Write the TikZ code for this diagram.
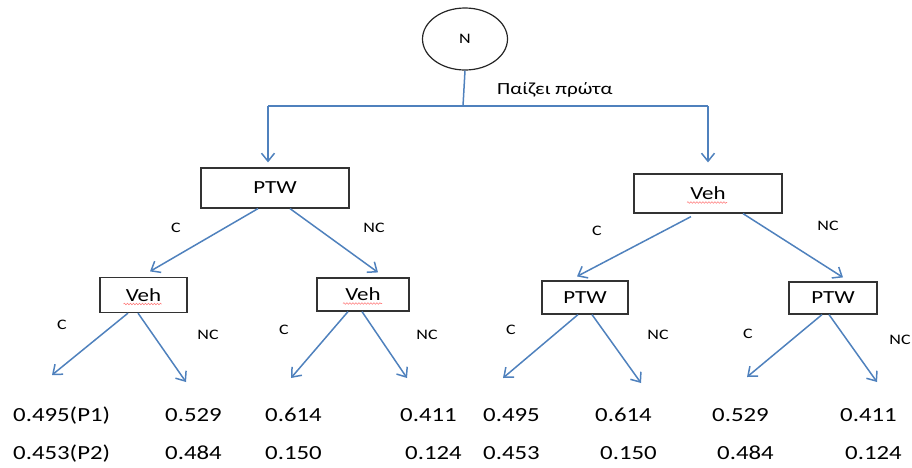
\documentclass[tikz,border=0pt]{standalone}
\usepackage{fontspec}
\setmainfont{Carlito}[FakeStretch=1.24]
\usetikzlibrary{arrows.meta,shapes.geometric,decorations.pathmorphing}
\definecolor{lineblue}{RGB}{79,129,189}
\newcommand{\fsz}[1]{\fontsize{#1}{#1}\selectfont}
\tikzset{
  box/.style={draw=black!80, line width=1.2pt, inner sep=0pt, font=\fsz{18.5}},
  arr/.style={lineblue, line width=1.5pt, -{Straight Barb[length=8pt,width=13pt,line width=1.5pt]}},
  link/.style={lineblue, line width=1.5pt},
  lbl/.style={font=\fsz{14.5}, inner sep=0pt},
  val/.style={font=\fsz{20}, inner sep=0pt, anchor=base west},
  squiggle/.style={red!50, line width=0.6pt, decorate,
    decoration={snake, amplitude=0.8pt, segment length=3pt}}
}
\begin{document}
\begin{tikzpicture}[x=1pt,y=-1pt]
\useasboundingbox (0,0) rectangle (912,467);

% chance node and the first move
\node[ellipse, draw=black!85, line width=1.2pt, minimum width=85pt, minimum height=62pt,
      inner sep=0pt, font=\fsz{14.5}] (N) at (465,39) {N};
\node[font=\fsz{17}, inner sep=0pt, anchor=base west] (first) at (497,94) {Παίζει πρώτα};

\coordinate (jm) at (463,106);
\coordinate (jl) at (268,106);
\coordinate (jr) at (708,106);

% first-level players
\node[box, minimum width=148pt, minimum height=40pt] (a) at (275,188) {PTW};
\node[box, minimum width=148pt, minimum height=39pt] (b) at (708,193.5) {Veh};

% second-level players
\node[box, minimum width=87pt, minimum height=35pt] (c) at (143.5,295) {Veh};
\node[box, minimum width=92pt, minimum height=33pt] (d) at (363,294.5) {Veh};
\node[box, minimum width=86pt, minimum height=33pt] (e) at (585,297.5) {PTW};
\node[box, minimum width=88pt, minimum height=32pt] (f) at (833,298) {PTW};

% spell-check marks under "Veh"
\draw[squiggle] ([shift={(-21,9)}]b.center) -- ([shift={(19,9)}]b.center);
\draw[squiggle] ([shift={(-20,9)}]c.center) -- ([shift={(18,9)}]c.center);
\draw[squiggle] ([shift={(-20,9)}]d.center) -- ([shift={(19,9)}]d.center);

% root connectors
\draw[link] (N.south) -- (jm);
\draw[link] (jl) -- (jr);
\draw[arr, shorten >=5pt] (jl) -- (jl |- a.north);
\draw[arr, shorten >=11pt] (jr) -- (jr |- b.north);

% first level to second level
\draw[arr] ([xshift=-17pt]a.south) -- ([shift={(6.5,-5.5)}]c.north);
\draw[arr] ([xshift=15pt]a.south) -- ([shift={(15,-5)}]d.north);
\draw[arr] ([shift={(-17,3)}]b.south) -- ([shift={(-8,-4)}]e.north);
\draw[arr] ([xshift=35pt]b.south) -- ([shift={(10,-4)}]f.north);

\node[lbl] (lc1) at (176,228) {C};
\node[lbl] (ln1) at (374,228) {NC};
\node[lbl] (lc2) at (597,231) {C};
\node[lbl] (ln2) at (828,226) {NC};

% leaf arrow ends
\coordinate (t1) at (52,375);
\coordinate (t2) at (186,382);
\coordinate (t3) at (291,378);
\coordinate (t4) at (407,378);
\coordinate (t5) at (503,378);
\coordinate (t6) at (641,383);
\coordinate (t7) at (747,377);
\coordinate (t8) at (877,382);

\draw[arr] ([xshift=-15.5pt]c.south) -- (t1);
\draw[arr] ([xshift=-5.5pt]c.south) -- (t2);
\draw[arr] ([xshift=-15pt]d.south) -- (t3);
\draw[arr] ([xshift=-1pt]d.south) -- (t4);
\draw[arr] ([xshift=-7pt]e.south) -- (t5);
\draw[arr] ([xshift=7pt]e.south) -- (t6);
\draw[arr] ([xshift=-11pt]f.south) -- (t7);
\draw[arr] ([xshift=-4pt]f.south) -- (t8);

\node[lbl] (lc3) at (62,325) {C};
\node[lbl] (ln3) at (208,335) {NC};
\node[lbl] (lc4) at (284,330) {C};
\node[lbl] (ln4) at (427,335) {NC};
\node[lbl] (lc5) at (511,330) {C};
\node[lbl] (ln5) at (658,335) {NC};
\node[lbl] (lc6) at (748,334) {C};
\node[lbl] (ln6) at (900,340) {NC};

% payoffs
\node[val] (p11) at (13,421) {0.495(P1)};
\node[val] (p12) at (165,421) {0.529};
\node[val] (p13) at (265,421) {0.614};
\node[val] (p14) at (400,421) {0.411};
\node[val] (p15) at (483,421) {0.495};
\node[val] (p16) at (595,421) {0.614};
\node[val] (p17) at (712,421) {0.529};
\node[val] (p18) at (840,421) {0.411};

\node[val] (p21) at (13,459) {0.453(P2)};
\node[val] (p22) at (165,459) {0.484};
\node[val] (p23) at (265,459) {0.150};
\node[val] (p24) at (405,459) {0.124};
\node[val] (p25) at (483,459) {0.453};
\node[val] (p26) at (600,459) {0.150};
\node[val] (p27) at (717,459) {0.484};
\node[val] (p28) at (845,459) {0.124};
\end{tikzpicture}
\end{document}
